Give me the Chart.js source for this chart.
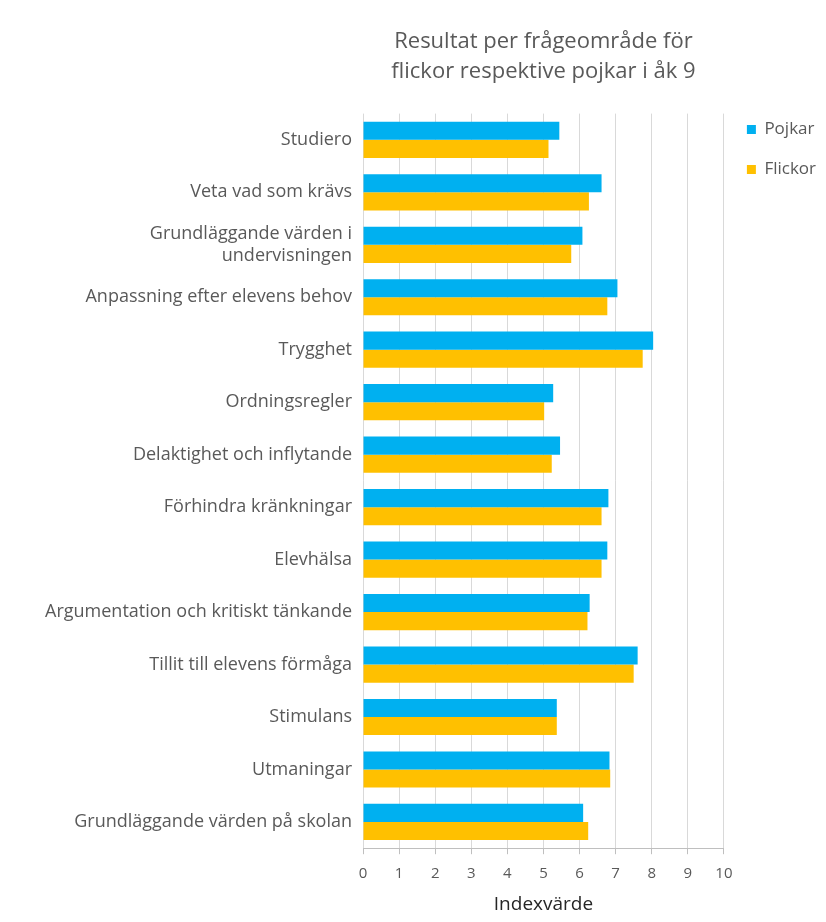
<!DOCTYPE html>
<html>
<head>
<meta charset="utf-8">
<script src="https://cdn.jsdelivr.net/npm/chart.js@4"></script>
<style>
  html, body { margin: 0; padding: 0; background: #fff; }
  #wrap { width: 826px; height: 922px; }
</style>
</head>
<body>
<div id="wrap"><canvas id="resultChart" width="826" height="922"></canvas></div>
<script>
const categories = [
  'Studiero',
  'Veta vad som krävs',
  ['Grundläggande värden i', 'undervisningen'],
  'Anpassning efter elevens behov',
  'Trygghet',
  'Ordningsregler',
  'Delaktighet och inflytande',
  'Förhindra kränkningar',
  'Elevhälsa',
  'Argumentation och kritiskt tänkande',
  'Tillit till elevens förmåga',
  'Stimulans',
  'Utmaningar',
  'Grundläggande värden på skolan'
];
const pojkar  = [5.44, 6.61, 6.08, 7.05, 8.04, 5.27, 5.46, 6.80, 6.77, 6.28, 7.61, 5.37, 6.83, 6.10];
const flickor = [5.14, 6.26, 5.77, 6.77, 7.75, 5.02, 5.23, 6.61, 6.61, 6.22, 7.50, 5.37, 6.85, 6.24];
const xTicks = [0, 1, 2, 3, 4, 5, 6, 7, 8, 9, 10];

const gray = '#595959';
const fontFamily = '"Open Sans", Lato, sans-serif';

const ctx = document.getElementById('resultChart').getContext('2d');
new Chart(ctx, {
  type: 'bar',
  data: {
    labels: categories,
    datasets: [
      { label: 'Pojkar', data: pojkar, backgroundColor: '#00B0F0' },
      { label: 'Flickor', data: flickor, backgroundColor: '#FFC000' }
    ]
  },
  options: {
    indexAxis: 'y',
    responsive: false,
    animation: false,
    datasets: {
      bar: { categoryPercentage: 0.69, barPercentage: 1.0 }
    },
    layout: { padding: { left: 0, right: 0, top: 0, bottom: 2 } },
    scales: {
      x: {
        min: 0,
        max: 10,
        afterBuildTicks: (axis) => { axis.ticks = xTicks.map(v => ({ value: v })); },
        grid: { color: '#D9D9D9', tickLength: 6, tickColor: '#BFBFBF' },
        border: { color: '#BFBFBF' },
        ticks: { color: gray, font: { family: fontFamily, size: 15 }, padding: 11 },
        title: {
          display: true,
          text: 'Indexvärde',
          color: '#262626',
          font: { family: fontFamily, size: 19 },
          padding: { top: -1, bottom: 4 }
        }
      },
      y: {
        afterFit: (axis) => { axis.width = 363; },
        grid: { display: false },
        border: { display: false },
        ticks: { color: gray, font: { family: fontFamily, size: 18 }, padding: 3 }
      }
    },
    plugins: {
      title: {
        display: true,
        fullSize: false,
        text: ['Resultat per frågeområde för', 'flickor respektive pojkar i åk 9'],
        color: gray,
        font: { family: fontFamily, size: 22, weight: 'normal', lineHeight: 1.4 },
        padding: { top: 26, bottom: 26 }
      },
      legend: {
        position: 'right',
        align: 'start',
        fullSize: true,
        title: {
          display: true,
          text: ' ',
          font: { size: 10, lineHeight: 1 },
          padding: { top: 88, bottom: 0 }
        },
        labels: {
          color: gray,
          font: { family: fontFamily, size: 17 },
          boxWidth: 9,
          boxHeight: 9,
          padding: 23
        }
      },
      tooltip: { enabled: false }
    }
  }
});
</script>
</body>
</html>
